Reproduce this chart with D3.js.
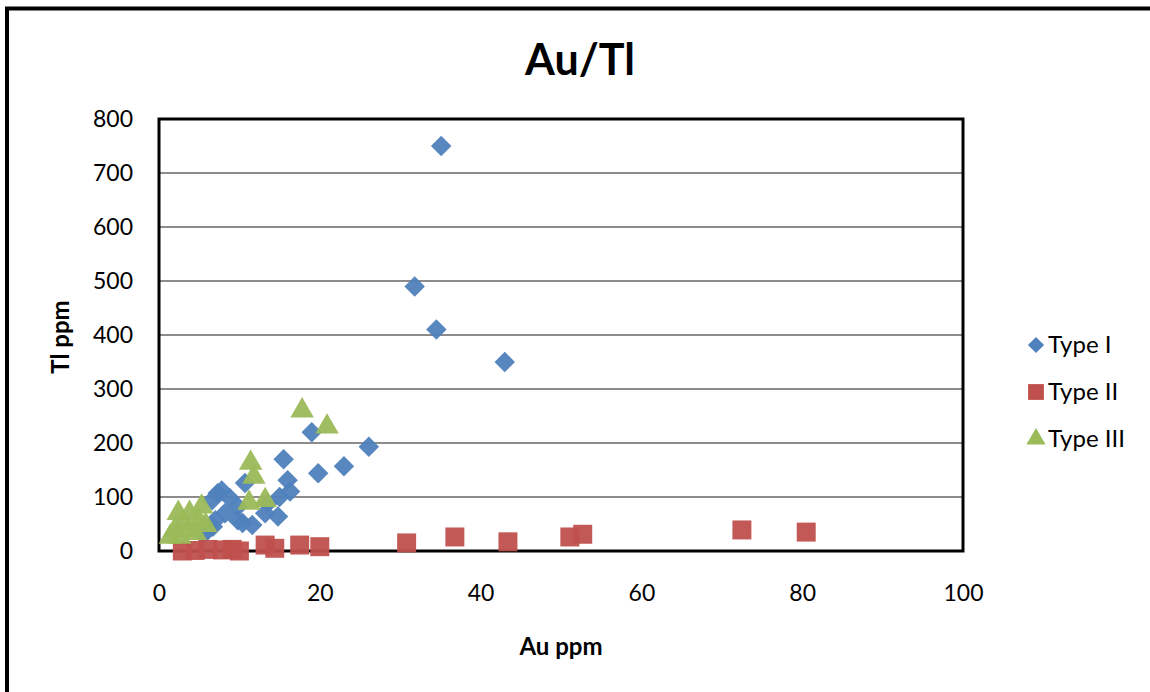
<!DOCTYPE html>
<html>
<head>
<meta charset="utf-8">
<script src="https://cdn.jsdelivr.net/npm/d3@7/dist/d3.min.js"></script>
<style>
  body { margin: 0; background: #fff; }
  svg { display: block; font-family: Lato, "Open Sans", sans-serif; }
</style>
</head>
<body>
<script>
// values
const typeI = [
  [35.1, 750], [31.8, 490], [34.5, 410], [43.0, 350], [26.1, 193],
  [23.0, 157], [19.8, 144], [19.0, 220], [15.5, 170], [10.7, 126],
  [16.0, 131], [16.3, 110], [15.0, 100], [7.3, 107], [8.8, 98],
  [6.6, 94], [9.8, 82], [13.5, 88], [8.2, 70], [7.0, 57],
  [14.8, 64], [9.8, 57], [11.6, 48], [10.4, 52], [6.7, 45],
  [13.2, 70], [6.0, 39], [7.8, 112], [5.5, 30]
];
const typeII = [
  [2.9, 0], [4.5, 1], [6.1, 3], [7.9, 2], [9.1, 3], [10.0, 0],
  [13.2, 11], [14.4, 5], [17.5, 11], [20.0, 8], [30.8, 15],
  [36.8, 26], [43.4, 17], [51.1, 26], [52.7, 31], [72.5, 39], [80.5, 35]
];
const typeIII = [
  [17.8, 260], [20.9, 230], [11.4, 163], [11.8, 137], [11.2, 89],
  [13.2, 94], [2.4, 70], [3.8, 70], [5.3, 82], [4.9, 57],
  [1.4, 26], [2.6, 26], [3.6, 39], [4.5, 33], [5.8, 48], [2.0, 40], [3.0, 52]
];
const series = [
  { name: "Type I", values: typeI, color: "#4F81BD", shape: "diamond" },
  { name: "Type II", values: typeII, color: "#C0504D", shape: "square" },
  { name: "Type III", values: typeIII, color: "#9BBB59", shape: "triangle" }
];
const xTicks = [0, 20, 40, 60, 80, 100];
const yTicks = [0, 100, 200, 300, 400, 500, 600, 700, 800];

const width = 1150, height = 692;
const plot = { left: 159, right: 963, top: 119, bottom: 551 };

const x = d3.scaleLinear().domain([0, 100]).range([plot.left, plot.right]);
const y = d3.scaleLinear().domain([0, 800]).range([plot.bottom, plot.top]);

const svg = d3.select("body").append("svg")
  .attr("width", width)
  .attr("height", height);

// chart frame
svg.append("path")
  .attr("d", `M7,${height} V8.5 H${width}`)
  .attr("fill", "none")
  .attr("stroke", "#000")
  .attr("stroke-width", 4);

svg.append("text")
  .attr("x", 580).attr("y", 75)
  .attr("text-anchor", "middle")
  .attr("font-size", 43).attr("font-weight", "bold")
  .text("Au/Tl");

// gridlines
svg.append("g")
  .selectAll("line")
  .data(yTicks.filter(d => d > 0 && d < 800))
  .join("line")
  .attr("x1", plot.left).attr("x2", plot.right)
  .attr("y1", d => y(d)).attr("y2", d => y(d))
  .attr("stroke", "#8c8c8c")
  .attr("stroke-width", 2);

// plot border
svg.append("rect")
  .attr("x", plot.left).attr("y", plot.top)
  .attr("width", plot.right - plot.left)
  .attr("height", plot.bottom - plot.top)
  .attr("fill", "none")
  .attr("stroke", "#000")
  .attr("stroke-width", 3);

const xAxis = svg.append("g")
  .attr("transform", `translate(0,${plot.bottom})`)
  .call(d3.axisBottom(x).tickValues(xTicks).tickSize(0).tickPadding(34));
const yAxis = svg.append("g")
  .attr("transform", `translate(${plot.left},0)`)
  .call(d3.axisLeft(y).tickValues(yTicks).tickSize(0).tickPadding(26));
[xAxis, yAxis].forEach(a => {
  a.select(".domain").remove();
  a.selectAll("text")
    .attr("font-size", 23)
    .attr("font-family", "Lato, 'Open Sans', sans-serif")
    .attr("fill", "#000");
});

svg.append("text")
  .attr("x", 561).attr("y", 655)
  .attr("text-anchor", "middle")
  .attr("font-size", 24).attr("font-weight", "bold")
  .text("Au ppm");

svg.append("text")
  .attr("transform", "translate(69,337) rotate(-90)")
  .attr("text-anchor", "middle")
  .attr("font-size", 24).attr("font-weight", "bold")
  .text("Tl ppm");

const symbols = {
  diamond: d3.symbol().type(d3.symbolSquare).size(210),
  square: d3.symbol().type(d3.symbolSquare).size(360),
  triangle: d3.symbol().type(d3.symbolTriangle).size(240)
};
const rotation = { diamond: 45, square: 0, triangle: 0 };

series.forEach(s => {
  svg.append("g")
    .selectAll("path")
    .data(s.values)
    .join("path")
    .attr("d", symbols[s.shape])
    .attr("transform", d => `translate(${x(d[0])},${y(d[1])}) rotate(${rotation[s.shape]})`)
    .attr("fill", s.color)
    .attr("fill-opacity", 0.95);
});

// legend
const legend = svg.append("g")
  .selectAll("g")
  .data(series)
  .join("g")
  .attr("transform", (d, i) => `translate(1036,${345 + i * 47})`);
legend.append("path")
  .attr("d", d => d.shape === "diamond"
    ? d3.symbol().type(d3.symbolSquare).size(130)()
    : d.shape === "square"
      ? d3.symbol().type(d3.symbolSquare).size(250)()
      : d3.symbol().type(d3.symbolTriangle).size(160)())
  .attr("transform", d => `rotate(${rotation[d.shape]})`)
  .attr("fill", d => d.color);
legend.append("text")
  .attr("x", 12).attr("y", 8)
  .attr("font-size", 24)
  .text(d => d.name);
</script>
</body>
</html>
